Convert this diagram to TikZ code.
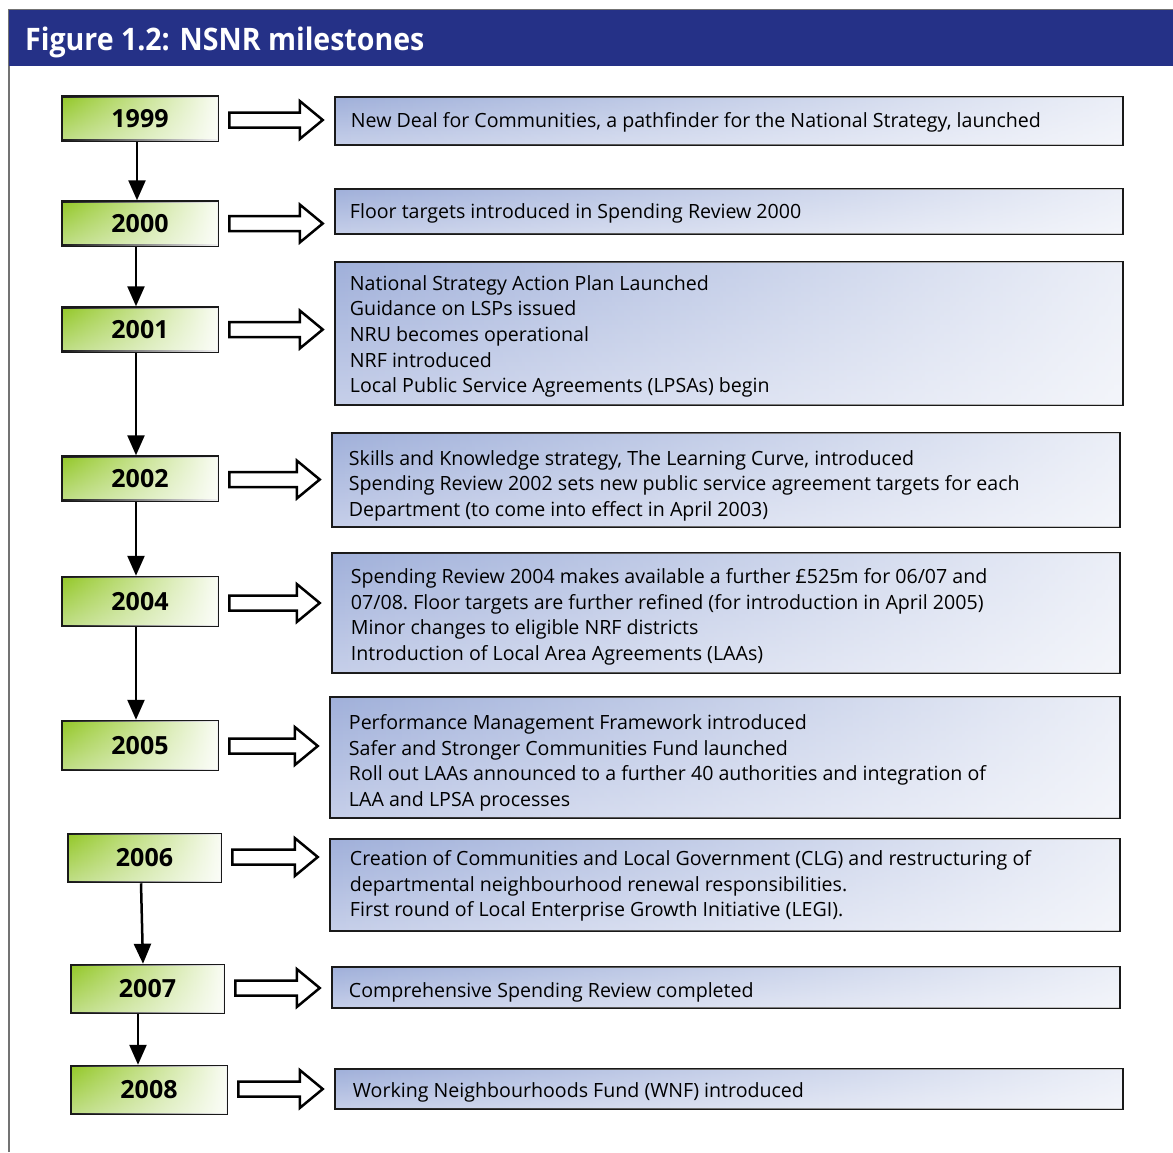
\documentclass[tikz,border=0pt]{standalone}
\usepackage{fontspec}
\setmainfont{Open Sans}
\newfontfamily\titlefont[FakeStretch=0.92]{Open Sans}
\usetikzlibrary{arrows.meta,calc,fadings}
\definecolor{hdrblue}{RGB}{37,49,135}
\definecolor{ygreen}{RGB}{148,200,40}
\definecolor{ybot}{RGB}{192,222,135}
\definecolor{tblue}{RGB}{160,176,218}
\definecolor{tbot}{RGB}{198,207,233}
\tikzset{
  ybox/.style={draw=black!90, line width=2.5pt, minimum width=156pt, minimum height=44pt,
    top color=ygreen, bottom color=ybot,
    postaction={fill=white, fill opacity=0.95, path fading=west},
    font=\bfseries\fontsize{25}{28}\selectfont},
  tbox/.style={draw=black!90, line width=2.5pt, minimum width=788pt, inner sep=0pt,
    top color=tblue, bottom color=tbot,
    postaction={fill=white, fill opacity=0.8, path fading=west}},
  ttext/.style={anchor=west, align=left, inner sep=0pt, font=\frenchspacing\fontsize{19.6}{25.6}\selectfont},
  varr/.style={line width=2.5pt, -{Triangle[length=20pt,width=17pt]}},
  barr/.style={draw=black, line width=2.5pt, fill=white, line join=miter},
}
\newcommand\blockarr[3]{%
  \draw[barr] let \p1=($(#1.east)+(10,0)$), \p2=($(#2.west)+(-11,0)$) in
    (\x1,\y1+#3+7.5pt) -- (\x2-23pt,\y1+#3+7.5pt) -- (\x2-23pt,\y1+#3+19pt) -- (\x2,\y1+#3)
    -- (\x2-23pt,\y1+#3-19pt) -- (\x2-23pt,\y1+#3-7.5pt) -- (\x1,\y1+#3-7.5pt) -- cycle;}
\begin{document}
\begin{tikzpicture}[x=1pt,y=-1pt]
\useasboundingbox (0,0) rectangle (1173,1152);
\fill[white] (0,0) rectangle (1173,1152);
\draw[black!55, line width=1.2pt] (9,1152) -- (9,10) -- (1173,10);
\fill[hdrblue] (9,10) rectangle (1173,66);
\node[anchor=base west, text=white, inner sep=0pt, font=\titlefont\bfseries\fontsize{31}{36}\selectfont] (title) at (25,50) {Figure 1.2: NSNR milestones};

% year boxes
\node[ybox] (y1999) at (140,118.5) {1999};
\node[ybox] (y2000) at (140,223.5) {2000};
\node[ybox] (y2001) at (140,329.5) {2001};
\node[ybox] (y2002) at (140,478.5) {2002};
\node[ybox, minimum height=49pt] (y2004) at (140,601.5) {2004};
\node[ybox, minimum height=49pt] (y2005) at (140,745.5) {2005};
\node[ybox, minimum width=153pt, minimum height=48pt] (y2006) at (144.5,858) {2006};
\node[ybox, minimum width=153pt, minimum height=48pt] (y2007) at (147.5,989) {2007};
\node[ybox, minimum width=156pt, minimum height=48pt] (y2008) at (149,1090) {2008};

% text boxes
\node[tbox, minimum height=48pt] (t1) at (729,121) {};
\node[tbox, minimum height=45pt] (t2) at (729,211.5) {};
\node[tbox, minimum height=143pt] (t3) at (729,333.5) {};
\node[tbox, minimum height=94pt] (t4) at (726,480) {};
\node[tbox, minimum height=120pt] (t5) at (726,613) {};
\node[tbox, minimum width=790pt, minimum height=121pt] (t6) at (725,757.5) {};
\node[tbox, minimum width=790pt, minimum height=92pt] (t7) at (725,885) {};
\node[tbox, minimum height=41pt] (t8) at (726,987.5) {};
\node[tbox, minimum height=40pt] (t9) at (729,1089) {};

\node[ttext] (l1) at ($(t1.west)+(17,1)$) {New Deal for Communities, a pathfinder for the National Strategy, launched};
\node[ttext] (l2) at ($(t2.west)+(16,2)$) {Floor targets introduced in Spending Review 2000};
\node[ttext] (l3) at ($(t3.west)+(16,3)$) {National Strategy Action Plan Launched\\Guidance on LSPs issued\\NRU becomes operational\\NRF introduced\\Local Public Service Agreements (LPSAs) begin};
\node[ttext] (l4) at ($(t4.west)+(18,5.5)$) {Skills and Knowledge strategy, The Learning Curve, introduced\\Spending Review 2002 sets new public service agreement targets for each\\Department (to come into effect in April 2003)};
\node[ttext] (l5) at ($(t5.west)+(20,4)$) {Spending Review 2004 makes available a further £525m for 06/07 and\\07/08. Floor targets are further refined (for introduction in April 2005)\\Minor changes to eligible NRF districts\\Introduction of Local Area Agreements (LAAs)};
\node[ttext] (l6) at ($(t6.west)+(20,5.5)$) {Performance Management Framework introduced\\Safer and Stronger Communities Fund launched\\Roll out LAAs announced to a further 40 authorities and integration of\\LAA and LPSA processes};
\node[ttext] (l7) at ($(t7.west)+(21,1)$) {Creation of Communities and Local Government (CLG) and restructuring of\\departmental neighbourhood renewal responsibilities.\\First round of Local Enterprise Growth Initiative (LEGI).};
\node[ttext] (l8) at ($(t8.west)+(18,5)$) {Comprehensive Spending Review completed};
\node[ttext] (l9) at ($(t9.west)+(19,3)$) {Working Neighbourhoods Fund (WNF) introduced};

% block arrows
\blockarr{y1999}{t1}{-1.5pt}
\blockarr{y2000}{t2}{0pt}
\blockarr{y2001}{t3}{0pt}
\blockarr{y2002}{t4}{-1pt}
\blockarr{y2004}{t5}{-1.5pt}
\blockarr{y2005}{t6}{-0.5pt}
\blockarr{y2006}{t7}{1pt}
\blockarr{y2007}{t8}{1pt}
\blockarr{y2008}{t9}{1pt}

% timeline arrows
\draw[varr] ($(y1999.south)+(-3,0)$) -- ($(y2000.north)+(-3,0)$);
\draw[varr] ($(y2000.south)+(-4,0)$) -- ($(y2001.north)+(-4,0)$);
\draw[varr] ($(y2001.south)+(-4,0)$) -- ($(y2002.north)+(-4,0)$);
\draw[varr] ($(y2002.south)+(-4,0)$) -- ($(y2004.north)+(-4,0)$);
\draw[varr] ($(y2004.south)+(-4,0)$) -- ($(y2005.north)+(-4,0)$);
\draw[varr] ($(y2006.south)+(-3.5,0)$) -- ($(y2007.north)+(-4.5,0)$);
\draw[varr] ($(y2007.south)+(-9.5,0)$) -- ($(y2008.north)+(-11,0)$);
\end{tikzpicture}
\end{document}
